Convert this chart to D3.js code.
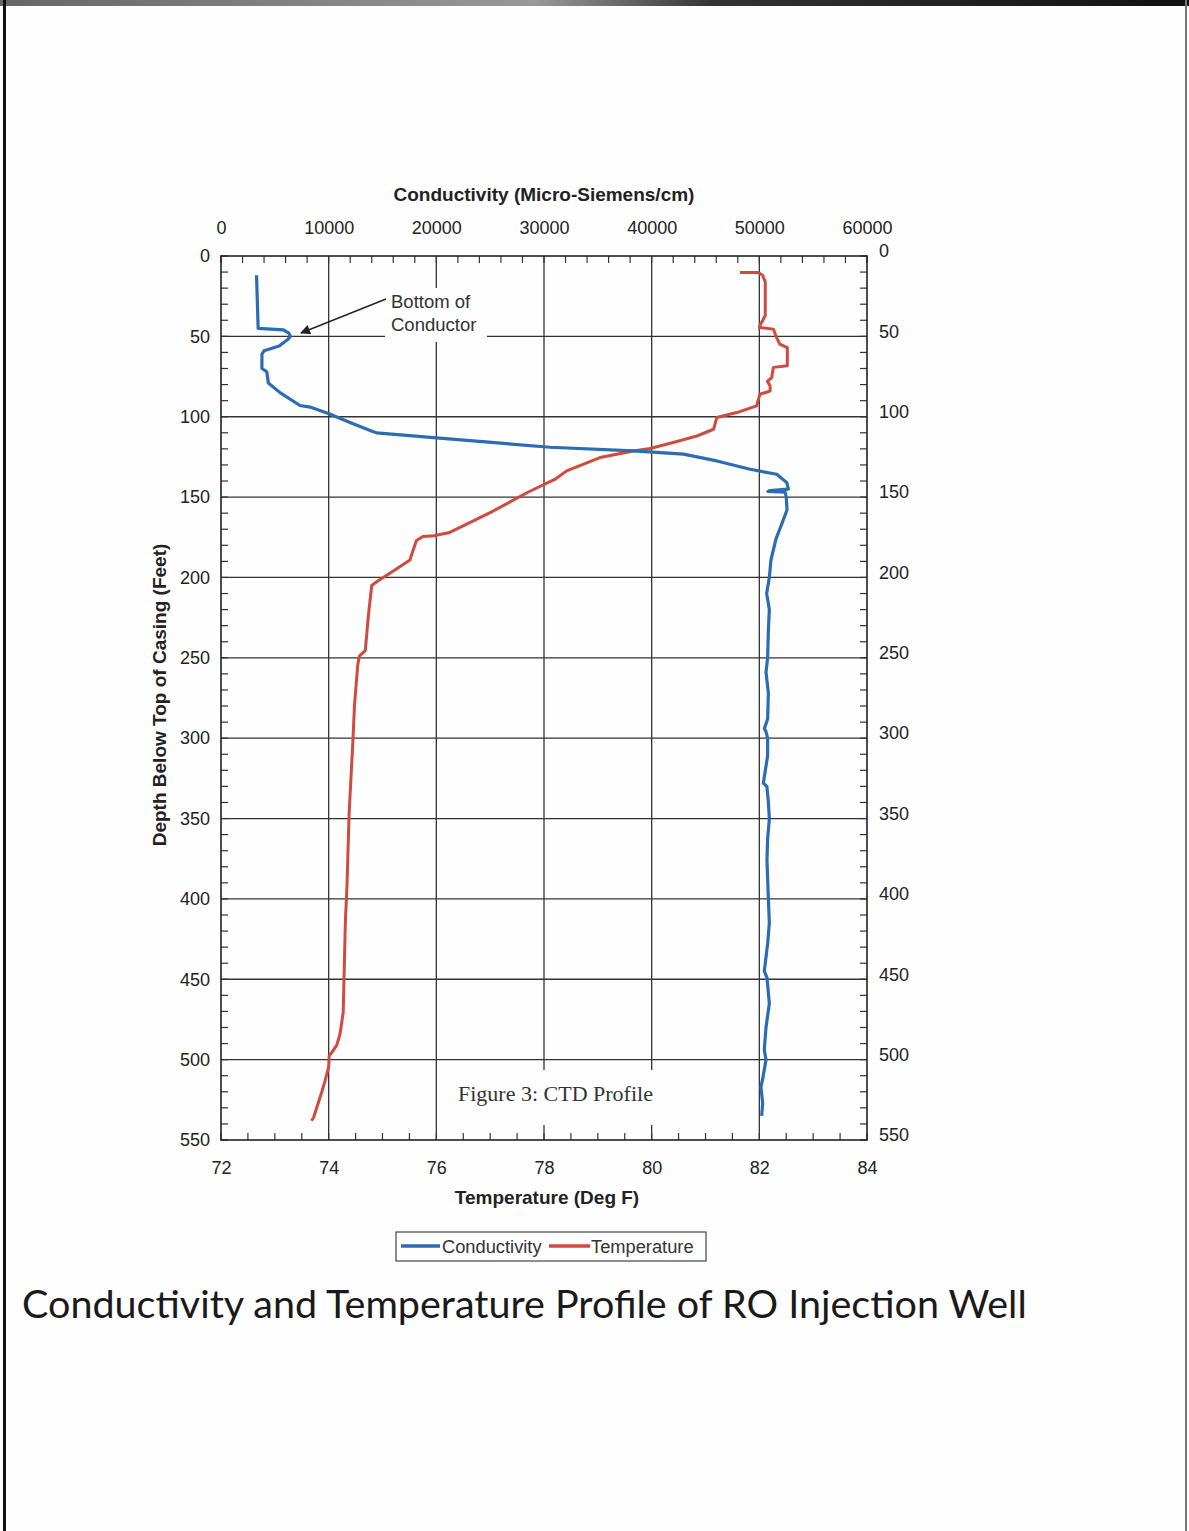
<!DOCTYPE html>
<html>
<head>
<meta charset="utf-8">
<script src="https://cdn.jsdelivr.net/npm/d3@7"></script>
<style>
  html, body { margin: 0; padding: 0; background: #ffffff; }
  svg { display: block; }
</style>
</head>
<body>
<svg id="chart" width="1189" height="1531"></svg>
<script>
// ---------------- DATA ----------------
const condDepth = [12, 45, 46, 48, 50, 52, 56, 59, 61, 70, 72, 79, 85, 93, 94, 98, 103.6, 109.4, 110, 113, 119, 121.3, 123.3, 127.5, 132.7, 135.8, 141, 145, 146, 146.5, 147, 150, 158, 168, 176, 189, 200, 210, 220, 233, 250, 259, 272, 288, 294, 296, 300, 311, 328, 330, 340, 350, 363, 376, 400, 415, 428, 445, 449, 465, 480, 494, 500, 512, 517, 527, 535];
const condValue = [3300, 3450, 5800, 6300, 6450, 6200, 5400, 4000, 3800, 3800, 4250, 4400, 5480, 7340, 8270, 9970, 11980, 14150, 14460, 19720, 30560, 38300, 42950, 46050, 49140, 51620, 52550, 52700, 51000, 50800, 52400, 52500, 52570, 52010, 51550, 51080, 50930, 50680, 50930, 50840, 50770, 50620, 50840, 50770, 50470, 50620, 50770, 50770, 50370, 50700, 50840, 50930, 50770, 50710, 50840, 50930, 50770, 50460, 50710, 50930, 50620, 50460, 50620, 50310, 50150, 50310, 50220];

const tempDepth = [10.2, 10.3, 12, 16, 37, 43.4, 44.5, 45.5, 50.6, 54.8, 57, 68.3, 69.3, 75.6, 78, 80.8, 84, 86, 93.2, 97.4, 100.5, 107.8, 112, 116, 119.8, 121.3, 125.4, 133.7, 139, 147, 159.7, 172, 174, 174.5, 177, 185, 189.2, 196, 202.7, 205, 223, 245.5, 248.9, 254.5, 279.3, 301.8, 346.8, 391.9, 414.4, 470.7, 484.2, 491, 495.5, 497.7, 504.5, 513.5, 520.3, 536, 538];
const tempValue = [81.64, 81.98, 82.06, 82.11, 82.11, 82.01, 82.0, 82.26, 82.32, 82.38, 82.52, 82.52, 82.26, 82.23, 82.15, 82.2, 82.2, 82.01, 81.95, 81.58, 81.21, 81.15, 80.84, 80.4, 79.97, 79.66, 79.04, 78.42, 78.2, 77.7, 77.0, 76.25, 75.95, 75.75, 75.63, 75.55, 75.51, 75.2, 74.89, 74.8, 74.74, 74.68, 74.57, 74.54, 74.48, 74.45, 74.38, 74.34, 74.31, 74.27, 74.21, 74.15, 74.06, 74.01, 74.0, 73.93, 73.87, 73.72, 73.68];

const condTicks = [0, 10000, 20000, 30000, 40000, 50000, 60000];
const tempTicks = [72, 74, 76, 78, 80, 82, 84];
const depthTicks = [0, 50, 100, 150, 200, 250, 300, 350, 400, 450, 500, 550];

const seriesNames = ["Conductivity", "Temperature"];
const seriesColors = ["#2b6cb3", "#cf4b40"];
const titleText = "Conductivity and Temperature Profile of RO Injection Well";
const figureNote = "Figure 3: CTD Profile";
const annotationLines = ["Bottom of", "Conductor"];

// ---------------- LAYOUT ----------------
const L = 221, R = 867, T = 256, B = 1140;
const svg = d3.select("#chart");
const font = "'Liberation Sans', Arial, sans-serif";
const ink = "#222";

// paper
svg.append("rect").attr("width", 1189).attr("height", 1531).attr("fill", "#fefefe");
const grad = svg.append("defs").append("linearGradient").attr("id", "topband");
grad.append("stop").attr("offset", "0%").attr("stop-color", "#666");
grad.append("stop").attr("offset", "45%").attr("stop-color", "#999");
grad.append("stop").attr("offset", "60%").attr("stop-color", "#333");
grad.append("stop").attr("offset", "100%").attr("stop-color", "#111");
svg.append("rect").attr("x", 0).attr("y", 0).attr("width", 1189).attr("height", 6).attr("fill", "url(#topband)");
svg.append("rect").attr("x", 3).attr("y", 0).attr("width", 3).attr("height", 1531).attr("fill", "#111");
svg.append("rect").attr("x", 1185).attr("y", 0).attr("width", 2).attr("height", 1531).attr("fill", "#777");

// scales
const yD = d3.scaleLinear().domain([0, 550]).range([T, B]);
const xC = d3.scaleLinear().domain([0, 60000]).range([L, R]);
const xT = d3.scaleLinear().domain([72, 84]).range([L, R]);

const g = svg.append("g");

// grid
g.append("g").selectAll("line").data(depthTicks.slice(1, -1)).join("line")
  .attr("x1", L).attr("x2", R).attr("y1", d => yD(d)).attr("y2", d => yD(d))
  .attr("stroke", "#333").attr("stroke-width", 1.3);
g.append("g").selectAll("line").data(tempTicks.slice(1, -1)).join("line")
  .attr("y1", T).attr("y2", B).attr("x1", d => xT(d)).attr("x2", d => xT(d))
  .attr("stroke", "#333").attr("stroke-width", 1.3);

// minor ticks
const minor = g.append("g").attr("stroke", "#333").attr("stroke-width", 1.2);
d3.range(0, 550.1, 10).forEach(d => {
  minor.append("line").attr("x1", L).attr("x2", L + 7).attr("y1", yD(d)).attr("y2", yD(d));
  minor.append("line").attr("x1", R).attr("x2", R - 7).attr("y1", yD(d)).attr("y2", yD(d));
});
d3.range(0, 60001, 2000).forEach(d => {
  minor.append("line").attr("x1", xC(d)).attr("x2", xC(d)).attr("y1", T).attr("y2", T + 7);
});
d3.range(72, 84.01, 0.5).forEach(d => {
  minor.append("line").attr("x1", xT(d)).attr("x2", xT(d)).attr("y1", B).attr("y2", B - 7);
});

// axes (labels)
function styleAxis(sel) {
  sel.select(".domain").remove();
  sel.selectAll(".tick line").remove();
  sel.selectAll("text").attr("font-family", font).attr("font-size", 18).attr("fill", ink);
}
g.append("g").attr("transform", `translate(0,${T - 18})`)
  .call(d3.axisTop(xC).tickValues(condTicks).tickFormat(d3.format("d")).tickSize(0).tickPadding(4))
  .call(styleAxis);
g.append("g").attr("transform", `translate(0,${B + 17})`)
  .call(d3.axisBottom(xT).tickValues(tempTicks).tickFormat(d3.format("d")).tickSize(0).tickPadding(4))
  .call(styleAxis);
g.append("g").attr("transform", `translate(${L - 11},0)`)
  .call(d3.axisLeft(yD).tickValues(depthTicks).tickSize(0).tickPadding(0))
  .call(styleAxis);
g.append("g").attr("transform", `translate(${R + 12},-5)`)
  .call(d3.axisRight(yD).tickValues(depthTicks).tickSize(0).tickPadding(0))
  .call(styleAxis);

// frame
g.append("rect").attr("x", L).attr("y", T).attr("width", R - L).attr("height", B - T)
  .attr("fill", "none").attr("stroke", "#222").attr("stroke-width", 1.6);

// axis titles
svg.append("text").attr("x", 544).attr("y", 201).attr("text-anchor", "middle")
  .attr("font-family", font).attr("font-weight", "bold").attr("font-size", 19).attr("fill", ink)
  .text("Conductivity (Micro-Siemens/cm)");
svg.append("text").attr("x", 547).attr("y", 1204).attr("text-anchor", "middle")
  .attr("font-family", font).attr("font-weight", "bold").attr("font-size", 19).attr("fill", ink)
  .text("Temperature (Deg F)");
svg.append("text").attr("transform", "translate(166,695) rotate(-90)").attr("text-anchor", "middle")
  .attr("font-family", font).attr("font-weight", "bold").attr("font-size", 19).attr("fill", ink)
  .text("Depth Below Top of Casing (Feet)");

// annotation boxes
svg.append("rect").attr("x", 385).attr("y", 288).attr("width", 102).attr("height", 54).attr("fill", "#fefefe");
svg.append("rect").attr("x", 447).attr("y", 1070).attr("width", 216).attr("height", 55).attr("fill", "#fefefe");

// lines
const condData = condDepth.map((d, i) => ({ d, v: condValue[i] }));
const tempData = tempDepth.map((d, i) => ({ d, v: tempValue[i] }));
const condLine = d3.line().x(p => xC(p.v)).y(p => yD(p.d));
const tempLine = d3.line().x(p => xT(p.v)).y(p => yD(p.d));
svg.append("path").datum(tempData).attr("d", tempLine).attr("fill", "none")
  .attr("stroke", seriesColors[1]).attr("stroke-width", 3).attr("stroke-linejoin", "round");
svg.append("path").datum(condData).attr("d", condLine).attr("fill", "none")
  .attr("stroke", seriesColors[0]).attr("stroke-width", 3.2).attr("stroke-linejoin", "round");

// annotation text + arrow
annotationLines.forEach((t, i) => {
  svg.append("text").attr("x", 391).attr("y", 308 + i * 23)
    .attr("font-family", font).attr("font-size", 18.5).attr("fill", "#333").text(t);
});
svg.append("defs").append("marker").attr("id", "arr").attr("viewBox", "0 0 10 10")
  .attr("refX", 9).attr("refY", 5).attr("markerWidth", 12).attr("markerHeight", 10)
  .attr("markerUnits", "userSpaceOnUse").attr("orient", "auto")
  .append("path").attr("d", "M0,0 L10,5 L0,10 z").attr("fill", "#222");
svg.append("line").attr("x1", 386).attr("y1", 299).attr("x2", 301).attr("y2", 333)
  .attr("stroke", "#222").attr("stroke-width", 1.4).attr("marker-end", "url(#arr)");

svg.append("text").attr("x", 458).attr("y", 1101)
  .attr("font-family", "'Liberation Serif', 'DejaVu Serif', serif").attr("font-size", 22).attr("fill", "#333")
  .text(figureNote);

// legend
const lg = svg.append("g");
lg.append("rect").attr("x", 396).attr("y", 1232).attr("width", 310).attr("height", 29)
  .attr("fill", "#fefefe").attr("stroke", "#444").attr("stroke-width", 1.2);
const legendX = [[401, 440, 442], [549, 590, 591]];
seriesNames.forEach((n, i) => {
  lg.append("line").attr("x1", legendX[i][0]).attr("x2", legendX[i][1]).attr("y1", 1246).attr("y2", 1246)
    .attr("stroke", seriesColors[i]).attr("stroke-width", 3.5);
  lg.append("text").attr("x", legendX[i][2]).attr("y", 1253)
    .attr("font-family", font).attr("font-size", 18.3).attr("fill", "#333").text(n);
});

// title
svg.append("text").attr("x", 22).attr("y", 1318)
  .attr("font-family", "Lato, 'Open Sans', sans-serif").attr("font-size", 39.5).attr("fill", "#1a1a1a")
  .text(titleText);
</script>
</body>
</html>
